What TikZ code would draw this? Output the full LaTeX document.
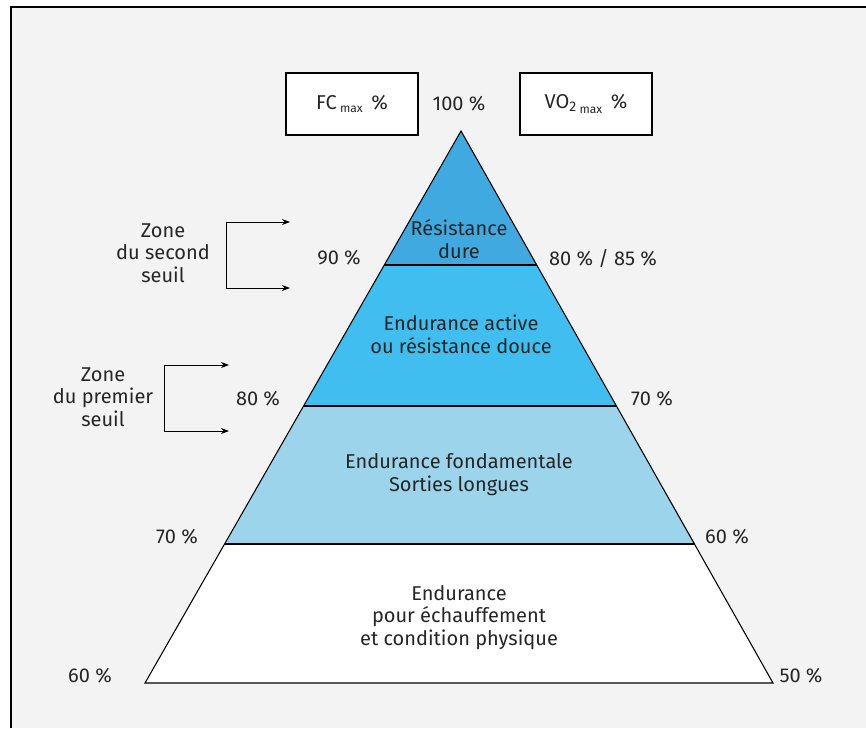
\documentclass[tikz,border=0pt]{standalone}
\usepackage{fontspec}
\setmainfont{Fira Sans}
\usetikzlibrary{arrows.meta}
\definecolor{bgc}{HTML}{F3F3F3}
\definecolor{bandA}{HTML}{3FA9E0}
\definecolor{bandB}{HTML}{3FBEEF}
\definecolor{bandC}{HTML}{9BD4EB}
\tikzset{
  lbl/.style={font=\fontsize{15}{16.9}\selectfont, align=center, inner sep=0pt, text=black!85},
  hdrbox/.style={draw=black, fill=white, line width=0.8pt, minimum width=99pt, minimum height=46.5pt, inner sep=0pt},
  band/.style={draw=black, line width=0.8pt},
  brk/.style={draw=black, line width=0.75pt, -{Stealth[length=6pt,width=4.5pt]}}
}
\begin{document}
\begin{tikzpicture}[x=0.75pt,y=-0.75pt]
\useasboundingbox (0,0) rectangle (866,728);
\fill[bgc] (11,7) rectangle (866,728);
\draw[line width=1.6pt] (11,728) -- (11,7) -- (866,7);
% pyramid
\coordinate (apex) at (461,131);
\coordinate (bl) at (145,683);
\coordinate (br) at (773,683);
\coordinate (l1) at (384.3,265); \coordinate (r1) at (536.7,265);
\coordinate (l2) at (303.6,406); \coordinate (r2) at (616.4,406);
\coordinate (l3) at (224.6,544); \coordinate (r3) at (695.4,544);
\fill[white] (l3) -- (r3) -- (br) -- (bl) -- cycle;
\fill[bandC] (l2) -- (r2) -- (r3) -- (l3) -- cycle;
\fill[bandB] (l1) -- (r1) -- (r2) -- (l2) -- cycle;
\fill[bandA] (apex) -- (r1) -- (l1) -- cycle;
\draw[band] (apex) -- (bl) -- (br) -- cycle;
\draw[band] (l1) -- (r1);
\draw[band] (l2) -- (r2);
\draw[band] (l3) -- (r3);
% header boxes
\node[hdrbox] (fc) at (352,104) {};
\node[lbl] at (fc.center) {FC\,\raisebox{-0.35ex}{\fontsize{9}{10}\selectfont max}\, \%};
\node[hdrbox] (vo) at (586,104) {};
\node[lbl] at (vo.center) {VO\raisebox{-0.3ex}{\fontsize{10.5}{11}\selectfont 2}\,\raisebox{-0.55ex}{\fontsize{9}{10}\selectfont max}\, \%};
\node[lbl] (p100) at (459,104) {100 \%};
% band texts
\node[lbl] (t1) at (459,239) {Résistance\\dure};
\node[lbl] (t2) at (461,334.5) {Endurance active\\ou résistance douce};
\node[lbl] (t3) at (459,474.5) {Endurance fondamentale\\Sorties longues};
\node[lbl] (t4) at (459,617.5) {Endurance\\pour échauffement\\et condition physique};
% percent labels
\node[lbl] (a90) at (339,258) {90 \%};
\node[lbl] (b8085) at (603,258) {80 \% / 85 \%};
\node[lbl] (a80) at (258,399) {80 \%};
\node[lbl] (b70) at (652,399) {70 \%};
\node[lbl] (a70) at (177,537) {70 \%};
\node[lbl] (b60) at (727,537) {60 \%};
\node[lbl] (a60) at (90,676) {60 \%};
\node[lbl] (b50) at (801,676) {50 \%};
% zones
\node[lbl] (z2) at (163,253) {Zone\\du second\\seuil};
\node[lbl] (z1) at (103,397) {Zone\\du premier\\seuil};
\coordinate (z2a) at (290,222); \coordinate (z2b) at (290,288);
\coordinate (z1a) at (229,365); \coordinate (z1b) at (229,431);
\draw[brk] (226,288) -- (226,222) -- (z2a);
\draw[brk] (226,222) -- (226,288) -- (z2b);
\draw[brk] (164,431) -- (164,365) -- (z1a);
\draw[brk] (164,365) -- (164,431) -- (z1b);
\end{tikzpicture}
\end{document}
